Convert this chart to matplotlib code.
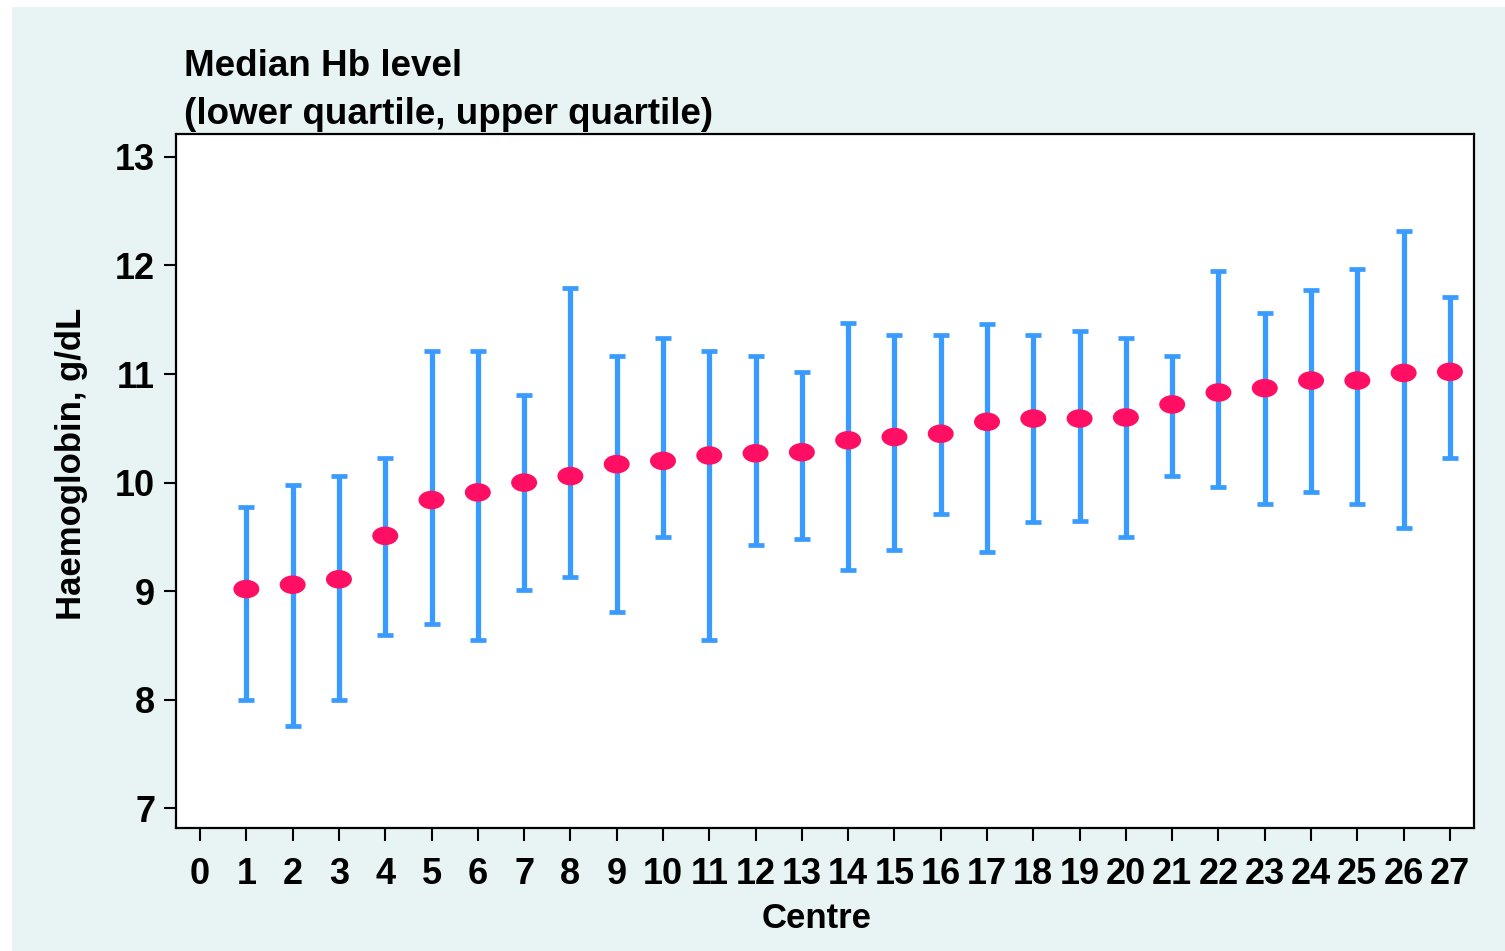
import matplotlib
matplotlib.use("Agg")
import matplotlib.pyplot as plt
from matplotlib.patches import Rectangle
from matplotlib.path import Path
from matplotlib.transforms import Affine2D
import numpy as np

plt.rcParams['font.family'] = ['Liberation Sans', 'DejaVu Sans']
plt.rcParams['font.weight'] = 'bold'

# Data
centres = list(range(1, 28))
median_hb = [9.02, 9.06, 9.11, 9.51, 9.84, 9.91, 10.0, 10.06, 10.17, 10.2,
             10.25, 10.27, 10.28, 10.39, 10.42, 10.45, 10.56, 10.59, 10.59, 10.6,
             10.72, 10.83, 10.87, 10.94, 10.94, 11.01, 11.02]
lower_q = [8.0, 7.76, 8.0, 8.6, 8.7, 8.55, 9.01, 9.13, 8.81, 9.5,
           8.55, 9.43, 9.48, 9.2, 9.38, 9.71, 9.36, 9.64, 9.65, 9.5,
           10.06, 9.96, 9.8, 9.91, 9.8, 9.58, 10.23]
upper_q = [9.78, 9.98, 10.06, 10.23, 11.21, 11.21, 10.81, 11.79, 11.17, 11.33,
           11.21, 11.17, 11.02, 11.47, 11.36, 11.36, 11.46, 11.36, 11.4, 11.33,
           11.17, 11.95, 11.56, 11.77, 11.97, 12.32, 11.71]
x_ticks = list(range(0, 28))
y_ticks = [7, 8, 9, 10, 11, 12, 13]

bar_color = '#3a9bff'
dot_color = '#ff0f64'
bg_color = '#e8f4f4'

fig = plt.figure(figsize=(15.05, 9.51), dpi=100)
fig.patch.set_facecolor('white')
W, H = 1505, 951
fig.patches.append(Rectangle((12 / W, 0), 1 - 12 / W, 1 - 7 / H,
                             transform=fig.transFigure, facecolor=bg_color,
                             edgecolor='none', zorder=-10))

ax = fig.add_axes([176 / W, 1 - 828 / H, (1474 - 176) / W, (828 - 134) / H])
ax.set_facecolor('white')

med = np.array(median_hb)
err = [med - np.array(lower_q), np.array(upper_q) - med]
ax.errorbar(centres, med, yerr=err, fmt='none', ecolor=bar_color,
            elinewidth=3.8, capsize=6, capthick=3.4, zorder=2)

ellipse = Path.unit_circle().transformed(Affine2D().scale(1.4, 1.0))
ax.scatter(centres, med, marker=ellipse, s=350, color=dot_color,
           edgecolors='none', zorder=3)

ax.set_xlim(-0.52, 27.52)
ax.set_ylim(6.82, 13.21)
ax.set_xticks(x_ticks)
ax.set_yticks(y_ticks)
ax.tick_params(axis='both', labelsize=26, length=9, width=1.5, color='black')
ax.tick_params(axis='x', pad=12)
ax.tick_params(axis='y', pad=6)
for lab in ax.get_xticklabels() + ax.get_yticklabels():
    lab.set_fontweight('bold')
for sp in ax.spines.values():
    sp.set_linewidth(1.6)
    sp.set_color('black')

fig.text(184 / W, 1 - 66 / H, 'Median Hb level',
         fontsize=26.5, fontweight='bold', ha='left', va='center')
fig.text(184 / W, 1 - 115 / H, '(lower quartile, upper quartile)',
         fontsize=26.5, fontweight='bold', ha='left', va='center')
fig.text(72 / W, 1 - 464 / H, 'Haemoglobin, g/dL', fontsize=25, fontweight='bold',
         rotation=90, ha='center', va='center')
fig.text(817 / W, 1 - 919 / H, 'Centre', fontsize=25, fontweight='bold',
         ha='center', va='center')

fig.savefig('out.png', dpi=100, facecolor=fig.get_facecolor())
